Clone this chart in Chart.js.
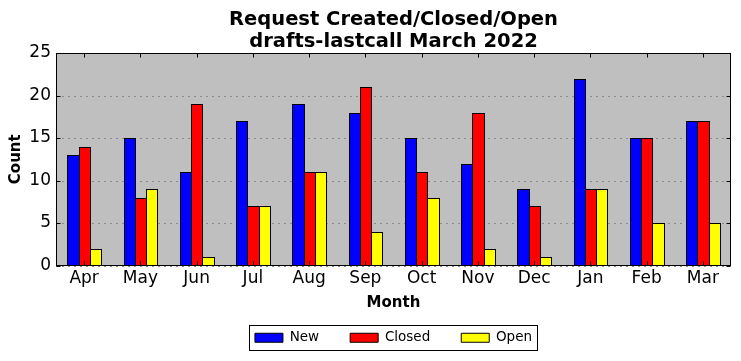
<!DOCTYPE html>
<html>
<head>
<meta charset="utf-8">
<script src="https://cdn.jsdelivr.net/npm/chart.js@4/dist/chart.umd.min.js"></script>
<style>
    html, body { margin: 0; padding: 0; background: #fff; }
    #wrap { width: 741px; height: 361px; }
</style>
</head>
<body>
<div id="wrap"><canvas id="chart" width="741" height="361"></canvas></div>
<script>
// chart data
const months     = ['Apr', 'May', 'Jun', 'Jul', 'Aug', 'Sep', 'Oct', 'Nov', 'Dec', 'Jan', 'Feb', 'Mar'];
const newCounts  = [13, 15, 11, 17, 19, 18, 15, 12,  9, 22, 15, 17];
const closed     = [14,  8, 19,  7, 11, 21, 11, 18,  7,  9, 15, 17];
const openCounts = [ 2,  9,  1,  7, 11,  4,  8,  2,  1,  9,  5,  5];
const yTicks     = [0, 5, 10, 15, 20, 25];

const FONT = 'DejaVu Sans';

// snap bar edges to whole pixels so neighbouring outlines share one line
const snapBars = {
    id: 'snapBars',
    afterDatasetsUpdate(chart) {
        chart.data.datasets.forEach((ds, i) => {
            chart.getDatasetMeta(i).data.forEach(el => {
                let l = Math.round(el.x - el.width / 2),
                    r = Math.round(el.x + el.width / 2);
                el.x     = (l + r + 1) / 2;
                el.width = r + 1 - l;
                el.y     = Math.round(el.y);
                el.base  = Math.round(el.base);
            });
        });
    }
};

// grey plot face, black frame, inward ticks on all four sides, border round the legend
const mplLook = {
    id: 'mplLook',
    beforeDatasetsDraw(chart) {
        let {ctx, chartArea: a} = chart;
        ctx.save();
        ctx.fillStyle = '#bfbfbf';
        ctx.fillRect(a.left, a.top, a.right - a.left, a.bottom - a.top);
        // dotted grid
        ctx.strokeStyle = '#8c8c8c';
        ctx.lineWidth   = 1;
        ctx.setLineDash([2, 4]);
        yTicks.forEach(v => {
            let y = Math.round(chart.scales.y.getPixelForValue(v)) + 0.5;
            ctx.beginPath();
            ctx.moveTo(a.left, y);
            ctx.lineTo(a.right, y);
            ctx.stroke();
        });
        ctx.restore();
    },
    afterDraw(chart) {
        let {ctx, chartArea: a} = chart,
            x = chart.scales.x,
            y = chart.scales.y,
            L = Math.round(a.left) + 0.5,
            R = Math.round(a.right) - 0.5,
            T = Math.round(a.top) + 0.5,
            B = Math.round(a.bottom) - 0.5;

        ctx.save();
        ctx.strokeStyle = '#000';
        ctx.lineWidth   = 1;
        ctx.beginPath();
        months.forEach((m, i) => {
            let px = Math.round(x.getPixelForTick(i)) + 0.5;
            ctx.moveTo(px, T); ctx.lineTo(px, T + 4);
            ctx.moveTo(px, B); ctx.lineTo(px, B - 4);
        });
        yTicks.forEach(v => {
            let py = Math.round(y.getPixelForValue(v)) + 0.5;
            ctx.moveTo(L, py); ctx.lineTo(L + 4, py);
            ctx.moveTo(R, py); ctx.lineTo(R - 4, py);
        });
        ctx.stroke();
        ctx.strokeRect(L, T, R - L, B - T);

        let hb = chart.legend.legendHitBoxes;
        if (hb && hb.length) {
            let first = hb[0],
                last  = hb[hb.length - 1],
                left  = Math.round(first.left - 6) + 0.5,
                right = Math.round(last.left + last.width + 5) + 0.5,
                top   = Math.round(first.top - 6) + 0.5;
            ctx.strokeRect(left, top, right - left, 25);
        }
        ctx.restore();
    }
};

const barSet = (label, data, color) => ({
    label,
    data,
    backgroundColor: color,
    borderColor    : '#000',
    borderWidth    : 1,
    borderSkipped  : false,
    inflateAmount  : 0,
    categoryPercentage: 0.6,
    barPercentage     : 1.0
});

new Chart(document.getElementById('chart'), {
    type: 'bar',
    data: {
        labels: months,
        datasets: [
            barSet('New',    newCounts,  '#0000ff'),
            barSet('Closed', closed,     '#ff0000'),
            barSet('Open',   openCounts, '#ffff00')
        ]
    },
    options: {
        responsive: false,
        animation : false,
        devicePixelRatio: 1,
        layout: {padding: {left: 0, right: 10, top: 0, bottom: 6.5}},
        plugins: {
            title: {
                display : true,
                fullSize: false,
                text    : ['Request Created/Closed/Open', 'drafts-lastcall March 2022'],
                color   : '#000',
                font    : {family: FONT, size: 19.5, weight: 'bold', lineHeight: 22 / 19.5},
                padding : {top: 9, bottom: 0}
            },
            legend: {
                position: 'bottom',
                fullSize: false,
                labels: {
                    boxWidth : 28,
                    boxHeight: 9,
                    padding  : 31,
                    color    : '#000',
                    font     : {family: FONT, size: 13.5}
                }
            },
            tooltip: {enabled: false}
        },
        scales: {
            x: {
                grid  : {display: false, drawTicks: false},
                border: {display: false},
                ticks : {color: '#000', padding: 3, maxRotation: 0, font: {family: FONT, size: 17}},
                title : {
                    display: true,
                    text   : 'Month',
                    color  : '#000',
                    font   : {family: FONT, size: 15, weight: 'bold'},
                    padding: {top: 0, bottom: -12}
                },
                afterFit(scale) { scale.height = 34.5; }
            },
            y: {
                min: 0,
                max: 25,
                grid  : {display: false, drawTicks: false},
                border: {display: false},
                ticks : {
                    color: '#000', padding: 5, stepSize: 5,
                    font : {family: FONT, size: 17}
                },
                title : {
                    display: true,
                    text   : 'Count',
                    color  : '#000',
                    font   : {family: FONT, size: 15, weight: 'bold'},
                    padding: {top: 7, bottom: 0}
                },
                afterFit(scale) { scale.width = 56; }
            }
        }
    },
    plugins: [snapBars, mplLook]
});
</script>
</body>
</html>
